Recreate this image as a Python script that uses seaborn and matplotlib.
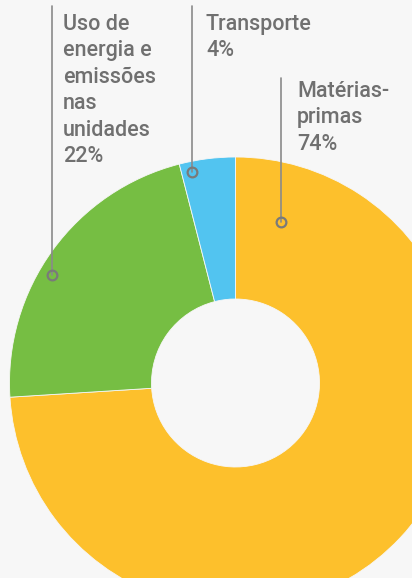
import seaborn as sns
import matplotlib.pyplot as plt

# dados
categorias = ['Matérias-\nprimas', 'Uso de\nenergia e\nemissões\nnas\nunidades', 'Transporte']
valores = [74, 22, 4]
cores = ['#FDC02C', '#76BE43', '#52C4F0']

sns.set_theme(style='white')
plt.rcParams['font.family'] = ['Roboto', 'DejaVu Sans']

fig = plt.figure(figsize=(4.12, 5.78), dpi=100)
fig.patch.set_facecolor('#F7F7F7')
ax = fig.add_axes([0, 0, 1, 1])
ax.set_facecolor('#F7F7F7')

# grafico de rosca
ax.pie(valores, colors=cores, startangle=90, counterclock=False,
       center=(235.5, 195), radius=226, frame=True,
       wedgeprops=dict(width=142, edgecolor='#F7F7F7', linewidth=0.6))
ax.set_xlim(0, 412)
ax.set_ylim(0, 578)
ax.set_aspect('equal')
ax.axis('off')

# rotulos com linhas
rotulos = [
    # texto x, texto y topo, linha x, linha topo, marcador y
    (297, 497, 281, 500, 356),
    (63, 564, 52, 572, 303),
    (206, 564, 192, 572, 406),
]
for (nome, v), (tx, ty, lx, ly0, my) in zip(zip(categorias, valores), rotulos):
    ax.text(tx, ty, f'{nome}\n{v}%', ha='left', va='top', fontsize=15.5,
            color='#707070', linespacing=1.34, fontweight='medium')
    ax.plot([lx, lx], [ly0, my], color='#8A8A8A', lw=1.2, zorder=5)
    ax.plot(lx, my, 'o', ms=7, mfc='none', mec='#7A7A7A', mew=1.6, zorder=6)

fig.savefig('out.png', dpi=100, facecolor=fig.get_facecolor())
